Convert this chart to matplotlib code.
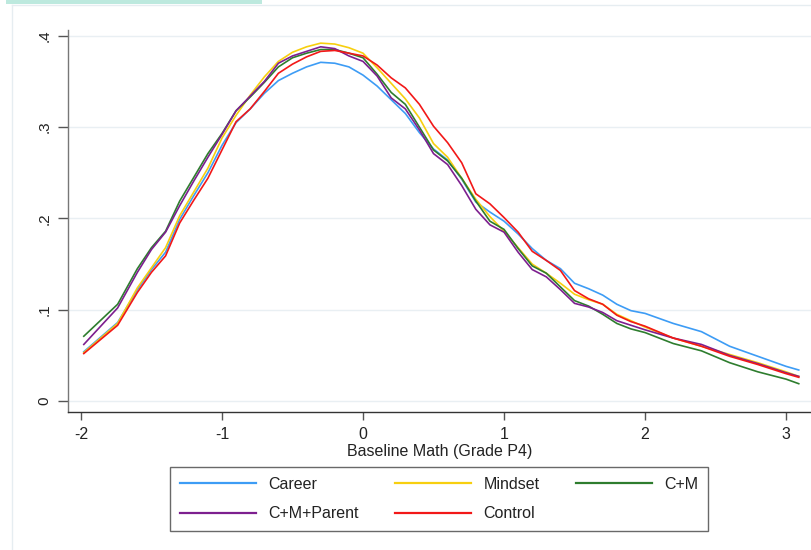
import matplotlib
matplotlib.use("Agg")
import matplotlib.pyplot as plt
from matplotlib.patches import Rectangle
from matplotlib.lines import Line2D

plt.rcParams['font.family'] = ['Liberation Sans', 'DejaVu Sans']

x = [-1.98, -1.74, -1.6, -1.5, -1.4, -1.3, -1.2, -1.1, -1.0, -0.9, -0.8, -0.7, -0.6, -0.5,
     -0.4, -0.3, -0.2, -0.1, 0.0, 0.1, 0.2, 0.3, 0.4, 0.5, 0.6, 0.7, 0.8, 0.9, 1.0, 1.1,
     1.2, 1.3, 1.4, 1.5, 1.6, 1.7, 1.8, 1.9, 2.0, 2.2, 2.4, 2.6, 2.8, 3.0, 3.09]

career = [0.054, 0.086, 0.122, 0.144, 0.163, 0.199, 0.225, 0.250, 0.280, 0.305, 0.320, 0.337,
          0.351, 0.359, 0.366, 0.371, 0.370, 0.366, 0.357, 0.345, 0.330, 0.315, 0.294, 0.276,
          0.264, 0.243, 0.218, 0.207, 0.197, 0.183, 0.167, 0.154, 0.145, 0.129, 0.123, 0.116,
          0.106, 0.099, 0.096, 0.085, 0.076, 0.060, 0.049, 0.038, 0.034]
mindset = [0.053, 0.085, 0.124, 0.146, 0.168, 0.203, 0.229, 0.255, 0.288, 0.313, 0.335, 0.355,
           0.372, 0.382, 0.388, 0.392, 0.391, 0.387, 0.381, 0.365, 0.348, 0.331, 0.310, 0.282,
           0.267, 0.244, 0.221, 0.202, 0.186, 0.168, 0.150, 0.140, 0.129, 0.117, 0.111, 0.106,
           0.095, 0.088, 0.081, 0.069, 0.060, 0.051, 0.042, 0.032, 0.027]
cm = [0.071, 0.106, 0.145, 0.168, 0.186, 0.219, 0.245, 0.271, 0.293, 0.318, 0.333, 0.349,
      0.366, 0.376, 0.381, 0.385, 0.385, 0.381, 0.376, 0.358, 0.338, 0.325, 0.300, 0.275,
      0.263, 0.244, 0.219, 0.197, 0.188, 0.167, 0.148, 0.140, 0.125, 0.110, 0.104, 0.095,
      0.085, 0.079, 0.075, 0.063, 0.055, 0.042, 0.032, 0.024, 0.019]
cm_parent = [0.062, 0.102, 0.141, 0.166, 0.185, 0.214, 0.241, 0.267, 0.292, 0.318, 0.334, 0.350,
             0.370, 0.378, 0.383, 0.388, 0.386, 0.378, 0.372, 0.356, 0.332, 0.320, 0.297, 0.271,
             0.259, 0.236, 0.210, 0.193, 0.185, 0.163, 0.144, 0.136, 0.122, 0.107, 0.103, 0.097,
             0.088, 0.083, 0.078, 0.069, 0.062, 0.050, 0.041, 0.031, 0.027]
control = [0.052, 0.083, 0.119, 0.141, 0.159, 0.195, 0.220, 0.244, 0.275, 0.306, 0.320, 0.339,
           0.359, 0.369, 0.377, 0.383, 0.384, 0.381, 0.378, 0.368, 0.354, 0.343, 0.325, 0.301,
           0.283, 0.261, 0.227, 0.216, 0.201, 0.185, 0.164, 0.154, 0.143, 0.121, 0.112, 0.106,
           0.094, 0.087, 0.082, 0.069, 0.060, 0.049, 0.040, 0.030, 0.026]

labels = ["Career", "Mindset", "C+M", "C+M+Parent", "Control"]
series = [career, mindset, cm, cm_parent, control]
colors = ["#3d9cf5", "#f7cf0f", "#2e7d2e", "#7d1f8f", "#f21818"]

xticks = [-2, -1, 0, 1, 2, 3]
yticks = [0, 0.1, 0.2, 0.3, 0.4]
yticklabels = ["0", ".1", ".2", ".3", ".4"]
xlabel = "Baseline Math (Grade P4)"

W, H = 812, 550
fig = plt.figure(figsize=(W / 100, H / 100), dpi=100)
fig.patch.set_facecolor("white")

# outer decorations
fig.add_artist(Rectangle((6 / W, 1 - 4 / H), 256 / W, 4 / H, transform=fig.transFigure,
                         facecolor="#bde9de", edgecolor="none"))
fig.add_artist(Line2D([12 / W, 1], [1 - 4.5 / H, 1 - 4.5 / H], transform=fig.transFigure,
                      color="#e6edf1", lw=1))
fig.add_artist(Line2D([12 / W, 12 / W], [0, 1 - 4.5 / H], transform=fig.transFigure,
                      color="#e6edf1", lw=1))

ax = fig.add_axes([68 / W, 1 - 412 / H, 1 - 68 / W, (412 - 30) / H])
ax.set_facecolor("white")

handles = []
for s, lab, c in zip(series, labels, colors):
    h, = ax.plot(x, s, color=c, lw=1.2, label=lab)
    handles.append(h)

ax.set_xlim(-2.092, 3.184)
ax.set_ylim(-0.012, 0.4064)
ax.set_xticks(xticks)
ax.set_xticklabels([str(t) for t in xticks], fontsize=11.5, color="#222222")
ax.set_yticks(yticks)
ax.set_yticklabels(yticklabels, fontsize=11, color="#222222", rotation=90, va="center")
ax.yaxis.grid(True, color="#e9eff3", lw=1)
ax.set_axisbelow(True)
for sp in ["top", "right"]:
    ax.spines[sp].set_visible(False)
ax.spines["left"].set_color("#777777")
ax.spines["bottom"].set_color("#333333")
ax.spines["left"].set_linewidth(1.0)
ax.spines["bottom"].set_linewidth(1.0)
ax.tick_params(axis="y", length=7, width=1, color="#555555", pad=5)
ax.tick_params(axis="x", length=6, width=1, color="#555555", pad=4.5)
ax.set_xlabel(xlabel, fontsize=11.5, color="#222222", labelpad=1.5)

order = [0, 3, 1, 4, 2]
leg = fig.legend([handles[i] for i in order], [labels[i] for i in order], ncol=3,
                 loc="upper left", bbox_to_anchor=(170 / W, 1 - 467 / H),
                 fontsize=11.5, frameon=True, fancybox=False, edgecolor="#444444",
                 handlelength=4.75, handletextpad=0.8, columnspacing=2.25,
                 labelspacing=0.9, borderpad=0.62, borderaxespad=0)
leg.get_frame().set_linewidth(1.0)
for t in leg.get_texts():
    t.set_color("#222222")
for l in leg.get_lines():
    l.set_linewidth(1.6)

fig.savefig("out.png", dpi=100)
